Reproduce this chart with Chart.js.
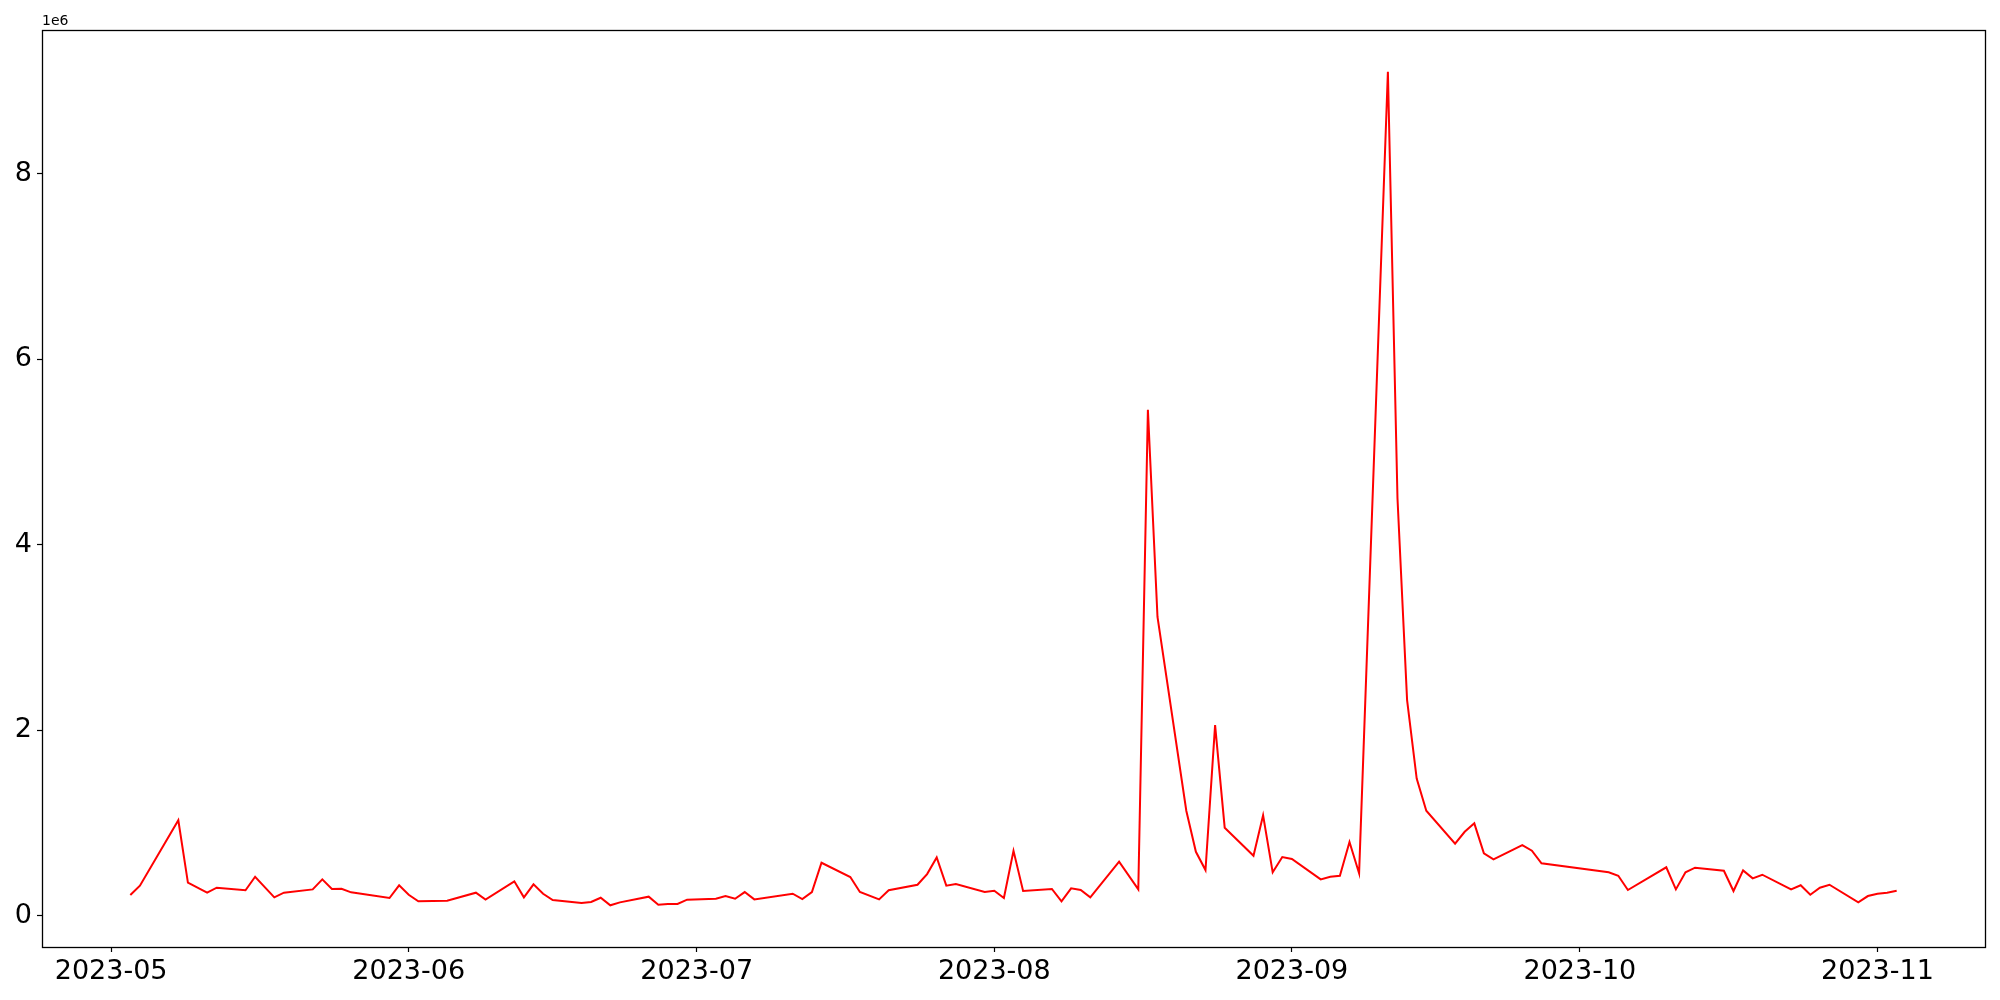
<!DOCTYPE html>
<html>
<head>
<meta charset="utf-8">
<script src="https://cdn.jsdelivr.net/npm/chart.js@4"></script>
<style>
    html, body { margin: 0; padding: 0; background: #fff; }
    #wrap { width: 2000px; height: 1000px; }
</style>
</head>
<body>
<div id="wrap"><canvas id="chart"></canvas></div>
<script>
// dates of the series (trading days, 2023)
const dates = [
    "2023-05-03", "2023-05-04", "2023-05-08", "2023-05-09", "2023-05-11", "2023-05-12",
    "2023-05-15", "2023-05-16", "2023-05-18", "2023-05-19", "2023-05-22", "2023-05-23",
    "2023-05-24", "2023-05-25", "2023-05-26", "2023-05-30", "2023-05-31", "2023-06-01",
    "2023-06-02", "2023-06-05", "2023-06-08", "2023-06-09", "2023-06-12", "2023-06-13",
    "2023-06-14", "2023-06-15", "2023-06-16", "2023-06-19", "2023-06-20", "2023-06-21",
    "2023-06-22", "2023-06-23", "2023-06-26", "2023-06-27", "2023-06-28", "2023-06-29",
    "2023-06-30", "2023-07-03", "2023-07-04", "2023-07-05", "2023-07-06", "2023-07-07",
    "2023-07-11", "2023-07-12", "2023-07-13", "2023-07-14", "2023-07-17", "2023-07-18",
    "2023-07-20", "2023-07-21", "2023-07-24", "2023-07-25", "2023-07-26", "2023-07-27",
    "2023-07-28", "2023-07-31", "2023-08-01", "2023-08-02", "2023-08-03", "2023-08-04",
    "2023-08-07", "2023-08-08", "2023-08-09", "2023-08-10", "2023-08-11", "2023-08-14",
    "2023-08-16", "2023-08-17", "2023-08-18", "2023-08-21", "2023-08-22", "2023-08-23",
    "2023-08-24", "2023-08-25", "2023-08-28", "2023-08-29", "2023-08-30", "2023-08-31",
    "2023-09-01", "2023-09-04", "2023-09-05", "2023-09-06", "2023-09-07", "2023-09-08",
    "2023-09-11", "2023-09-12", "2023-09-13", "2023-09-14", "2023-09-15", "2023-09-18",
    "2023-09-19", "2023-09-20", "2023-09-21", "2023-09-22", "2023-09-25", "2023-09-26",
    "2023-09-27", "2023-10-04", "2023-10-05", "2023-10-06", "2023-10-10", "2023-10-11",
    "2023-10-12", "2023-10-13", "2023-10-16", "2023-10-17", "2023-10-18", "2023-10-19",
    "2023-10-20", "2023-10-23", "2023-10-24", "2023-10-25", "2023-10-26", "2023-10-27",
    "2023-10-30", "2023-10-31", "2023-11-01", "2023-11-02", "2023-11-03"
];

const volumes = [
    224000, 325000, 1030000, 357000, 249000, 303000,
    275000, 421000, 199000, 249000, 285000, 393000,
    289000, 292000, 253000, 192000, 329000, 227000,
    156000, 163000, 249000, 174000, 372000, 199000,
    339000, 238000, 170000, 138000, 149000, 195000,
    113000, 145000, 206000, 120000, 127000, 127000,
    174000, 184000, 213000, 184000, 256000, 177000,
    238000, 181000, 256000, 572000, 418000, 256000,
    177000, 275000, 335000, 450000, 630000, 325000,
    343000, 256000, 270000, 192000, 700000, 267000,
    289000, 156000, 296000, 278000, 199000, 583000,
    285000, 5458000, 3223000, 1133000, 690000, 493000,
    2056000, 950000, 648000, 1083000, 469000, 634000,
    612000, 393000, 421000, 432000, 795000, 458000,
    9103000, 4500000, 2326000, 1480000, 1133000, 777000,
    906000, 997000, 673000, 609000, 763000, 702000,
    566000, 469000, 432000, 278000, 523000, 285000,
    469000, 519000, 486000, 267000, 490000, 404000,
    443000, 285000, 329000, 227000, 303000, 335000,
    145000, 213000, 238000, 249000, 270000
];

const monthTicks = ["2023-05", "2023-06", "2023-07", "2023-08", "2023-09", "2023-10", "2023-11"];
const yTicks = [0, 2, 4, 6, 8];
const yOffsetLabel = "1e6";

function toMs(s) {
    const p = s.split("-").map(Number);
    return Date.UTC(p[0], p[1] - 1, p[2] || 1);
}
function pad2(n) { return String(n).padStart(2, "0"); }

const points = dates.map((d, i) => ({ x: toMs(d), y: volumes[i] }));

// matplotlib style 5% margins
const xs = points.map(p => p.x);
const xMinD = Math.min(...xs), xMaxD = Math.max(...xs);
const xPad = (xMaxD - xMinD) * 0.05;
const yMinD = Math.min(...volumes), yMaxD = Math.max(...volumes);
const yPad = (yMaxD - yMinD) * 0.05;

const FONT = "'DejaVu Sans', sans-serif";

// black box around the plot + the "1e6" offset text
const framePlugin = {
    id: "frame",
    afterDraw(chart) {
        const { ctx, chartArea: a } = chart;
        const l = Math.round(a.left) + 0.5, t = Math.round(a.top) + 0.5;
        const r = Math.round(a.right) + 0.5, b = Math.round(a.bottom) + 0.5;
        ctx.save();
        ctx.strokeStyle = "#000";
        ctx.lineWidth = 1.3;
        ctx.strokeRect(l, t, r - l, b - t);
        ctx.fillStyle = "#000";
        ctx.font = "14px " + FONT;
        ctx.textAlign = "left";
        ctx.textBaseline = "bottom";
        ctx.fillText(yOffsetLabel, a.left, a.top - 2);
        ctx.restore();
    }
};

new Chart(document.getElementById("chart").getContext("2d"), {
    type: "line",
    data: {
        datasets: [{
            data: points,
            borderColor: "#ff0000",
            borderWidth: 2,
            pointRadius: 0,
            tension: 0,
            fill: false
        }]
    },
    options: {
        responsive: true,
        maintainAspectRatio: false,
        animation: false,
        parsing: false,
        layout: { padding: { left: 0, top: 30, right: 15, bottom: 0 } },
        plugins: {
            legend: { display: false },
            tooltip: { enabled: false }
        },
        scales: {
            x: {
                type: "linear",
                min: xMinD - xPad,
                max: xMaxD + xPad,
                afterFit: s => { s.height = 53; },
                afterBuildTicks: s => {
                    s.ticks = monthTicks.map(m => ({ value: toMs(m) }));
                },
                border: { display: false },
                grid: { drawOnChartArea: false, drawTicks: true, tickLength: 5, tickWidth: 1.2, tickColor: "#000" },
                ticks: {
                    color: "#000",
                    font: { family: FONT, size: 27 },
                    padding: 4,
                    maxRotation: 0,
                    autoSkip: false,
                    callback: v => {
                        const d = new Date(v);
                        return d.getUTCFullYear() + "-" + pad2(d.getUTCMonth() + 1);
                    }
                }
            },
            y: {
                type: "linear",
                min: yMinD - yPad,
                max: yMaxD + yPad,
                afterFit: s => { s.width = 42; },
                afterBuildTicks: s => {
                    s.ticks = yTicks.map(t => ({ value: t * 1e6 }));
                },
                border: { display: false },
                grid: { drawOnChartArea: false, drawTicks: true, tickLength: 5, tickWidth: 1.2, tickColor: "#000" },
                ticks: {
                    color: "#000",
                    font: { family: FONT, size: 27 },
                    padding: 5,
                    autoSkip: false,
                    callback: v => String(Math.round(v / 1e6))
                }
            }
        }
    },
    plugins: [framePlugin]
});
</script>
</body>
</html>
